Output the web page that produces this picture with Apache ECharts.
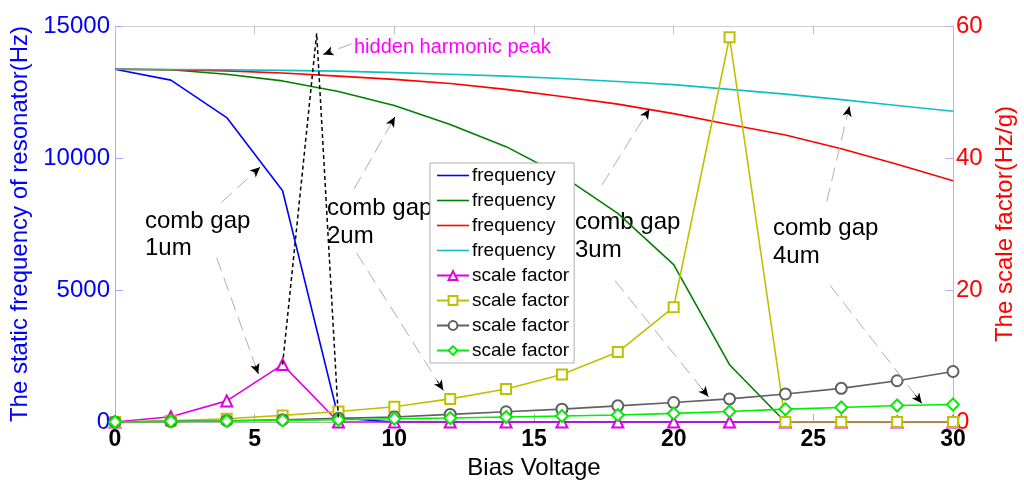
<!DOCTYPE html>
<html><head><meta charset="utf-8">
<script src="https://cdn.jsdelivr.net/npm/echarts@6/dist/echarts.min.js"></script>
<style>html,body{margin:0;padding:0;background:#fff}#c{width:1024px;height:483px}</style>
</head><body><div id="c"></div>
<script>
var biasVoltage = [0,2,4,6,8,10,12,14,16,18,20,22,24,26,28,30];
var freq1um = [13360,12950,11530,8760,150,0,0,0,0,0,0,0,0,0,0,0];
var freq2um = [13360,13340,13170,12920,12520,11990,11270,10430,9330,7900,5960,2170,0,0,0,0];
var freq3um = [13360,13345,13300,13220,13100,12980,12820,12600,12330,12040,11680,11270,10870,10350,9760,9140];
var freq4um = [13360,13355,13340,13320,13290,13235,13170,13100,13010,12900,12780,12600,12420,12210,11990,11770];
var sf1um = [0,0.8,3.2,8.7,0,0,0,0,0,0,0,0,0,0,0,0];
var sf2um = [0,0.2,0.5,1.0,1.6,2.3,3.5,5.0,7.2,10.6,17.4,58.3,0,0,0,0];
var sf3um = [0,0.1,0.2,0.35,0.55,0.75,1.15,1.55,1.95,2.45,2.95,3.5,4.25,5.1,6.25,7.65];
var sf4um = [0,0.1,0.15,0.25,0.35,0.5,0.6,0.75,0.9,1.05,1.3,1.6,1.95,2.2,2.5,2.65];
var peakX = [6, 7.22, 8];
var peakY = [8.7, 58.9, 0.4];
// annotation arrows [x0,y0,x1,y1] in (bias voltage, scale factor) space
var arrows = [
  [3.82,33.3,5.19,38.6],[3.64,24.9,5.13,7.3],
  [8.56,35.3,10.02,46.2],[8.65,25.6,11.75,4.8],
  [17.43,35.9,19.13,47.4],[17.9,21.4,21.24,3.85],
  [25.48,33.4,26.29,47.8],[25.6,20.7,28.88,2.85],
  [8.47,57.3,7.46,55.7]
];

var FONT = "'Liberation Sans', Arial, sans-serif";
function pairs(ys){ return biasVoltage.map(function(x,i){ return [x, ys[i]]; }); }

var markData = [];
arrows.forEach(function(a){
  markData.push([{coord:[a[0],a[1]], symbol:'none'},{coord:[a[2],a[3]], symbol:'none', lineStyle:{color:'#b0b0b0', width:1, type:[14,7]}}]);
  var f = 0.93;
  var nx = a[0] + (a[2]-a[0])*f, ny = a[1] + (a[3]-a[1])*f;
  markData.push([{coord:[nx,ny], symbol:'none'},{coord:[a[2],a[3]], symbol:'arrow', lineStyle:{color:'#000', width:1, type:'solid'}}]);
});

var zw = '\u200b';
var series = [
  {name:'frequency', color:'#0000ff', data:pairs(freq1um), y:0},
  {name:'frequency'+zw, color:'#008000', data:pairs(freq2um), y:0},
  {name:'frequency'+zw+zw, color:'#ff0000', data:pairs(freq3um), y:0},
  {name:'frequency'+zw+zw+zw, color:'#10c0c0', data:pairs(freq4um), y:0},
  {name:'scale factor', color:'#e000e0', data:pairs(sf1um), y:1, sym:'emptyTriangle', ss:11},
  {name:'scale factor'+zw, color:'#c0c000', data:pairs(sf2um), y:1, sym:'emptyRect', ss:10},
  {name:'scale factor'+zw+zw, color:'#606060', data:pairs(sf3um), y:1, sym:'emptyCircle', ss:11},
  {name:'scale factor'+zw+zw+zw, color:'#00ee00', data:pairs(sf4um), y:1, sym:'emptyDiamond', ss:12}
].map(function(s){
  return {
    name:s.name, type:'line', yAxisIndex:s.y, data:s.data,
    symbol: s.sym || 'none', symbolSize: s.ss || 0, showSymbol: !!s.sym,
    lineStyle:{color:s.color, width:1.6}, itemStyle:{color:s.color, borderWidth:1.5},
    animation:false, z:2
  };
});
series.push({
  name:'peak', type:'line', yAxisIndex:1,
  data: peakX.map(function(x,i){ return [x, peakY[i]]; }),
  symbol:'none', lineStyle:{color:'#000', width:1.5, type:[4,3]},
  animation:false, z:3,
  markLine:{silent:true, animation:false, symbol:['none','arrow'], symbolSize:[7,10],
    label:{show:false}, lineStyle:{color:'#b0b0b0', width:1}, data:markData}
});

var legendData = series.slice(0,8).map(function(s, i){
  var item = {name:s.name};
  if (i < 4) item.icon = 'path://M0 0H32V1.6H0Z';
  return item;
});

var plainNum = function(v){ return String(v); };

var chart = echarts.init(document.getElementById('c'), null, {renderer:'canvas'});
chart.setOption({
  backgroundColor:'#fff',
  animation:false,
  grid:{left:115, right:71, top:26, bottom:61, containLabel:false, outerBoundsMode:'none'},
  legend:{
    data: legendData,
    orient:'vertical', left:430, top:163, padding:[3,5,3,6],
    itemWidth:32, itemHeight:11, itemGap:6, symbolKeepAspect:true,
    backgroundColor:'#fff', borderColor:'#b0b0b0', borderWidth:1, borderRadius:0,
    textStyle:{fontFamily:FONT, fontSize:19, color:'#000', padding:[0,0,0,-2]},
    formatter:function(n){ return n.replace(/\u200b/g,''); },
    selectedMode:false
  },
  xAxis:[{
    type:'value', min:0, max:30, interval:5,
    name:'Bias Voltage', nameLocation:'middle', nameGap:25,
    nameTextStyle:{fontFamily:FONT, fontSize:24, color:'#000'},
    axisLine:{show:true, onZero:false, lineStyle:{color:'#b0b0b0'}},
    axisTick:{show:true, inside:true, length:8, lineStyle:{color:'#b0b0b0'}},
    axisLabel:{fontFamily:FONT, fontSize:23, fontWeight:'bold', color:'#000', margin:6, formatter:plainNum},
    splitLine:{show:false}
  },{
    type:'value', min:0, max:30, interval:5, position:'top',
    axisLine:{show:true, onZero:false, lineStyle:{color:'#d0d0d0'}},
    axisTick:{show:true, inside:true, length:8, lineStyle:{color:'#c0c0c0'}},
    axisLabel:{show:false}, splitLine:{show:false}
  }],
  yAxis:[{
    type:'value', min:0, max:15000, interval:5000, position:'left',
    name:'The static frequency of resonator(Hz)', nameLocation:'middle', nameGap:77,
    nameTextStyle:{fontFamily:FONT, fontSize:24, color:'#0000ff'},
    axisLine:{show:true, onZero:false, lineStyle:{color:'#a8a8ff'}},
    axisTick:{show:true, inside:true, length:8, lineStyle:{color:'#a8a8ff'}},
    axisLabel:{fontFamily:FONT, fontSize:24, color:'#0000ff', margin:5, formatter:plainNum},
    splitLine:{show:false}
  },{
    type:'value', min:0, max:60, interval:20, position:'right',
    name:'The scale factor(Hz/g)', nameLocation:'middle', nameGap:38,
    nameTextStyle:{fontFamily:FONT, fontSize:24, color:'#ff0000'},
    axisLine:{show:true, onZero:false, lineStyle:{color:'#c8a8f0'}},
    axisTick:{show:true, inside:true, length:8, lineStyle:{color:'#c8a8f0'}},
    axisLabel:{fontFamily:FONT, fontSize:24, color:'#ff0000', margin:3, formatter:plainNum},
    splitLine:{show:false}
  }],
  graphic:[
    {type:'text', left:145, top:208, style:{text:'comb gap\n1um', font:'24px '+FONT, fill:'#000', lineHeight:27}},
    {type:'text', left:327, top:194, style:{text:'comb gap\n2um', font:'24px '+FONT, fill:'#000', lineHeight:28}},
    {type:'text', left:575, top:208, style:{text:'comb gap\n3um', font:'24px '+FONT, fill:'#000', lineHeight:28}},
    {type:'text', left:773, top:214, style:{text:'comb gap\n4um', font:'24px '+FONT, fill:'#000', lineHeight:28}},
    {type:'text', left:354, top:37, style:{text:'hidden harmonic peak', font:'20px '+FONT, fill:'#ff00ff'}}
  ],
  series:series
});
</script></body></html>
